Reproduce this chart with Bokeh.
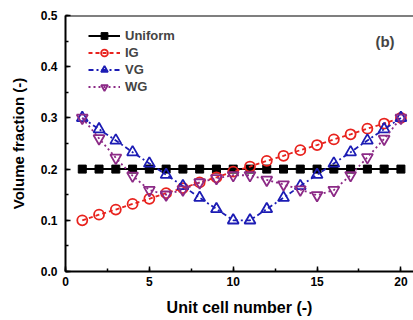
from bokeh.plotting import figure
from bokeh.embed import file_html
from bokeh.resources import INLINE
from bokeh.models import (SingleIntervalTicker, LinearAxis, PrintfTickFormatter,
                          Legend, LegendItem, Label, Range1d, Span)

cells = list(range(1, 21))
uniform = [0.20] * 20
ig = [0.100, 0.111, 0.121, 0.132, 0.142, 0.153, 0.163, 0.174, 0.184, 0.195,
      0.205, 0.216, 0.226, 0.237, 0.247, 0.258, 0.268, 0.279, 0.289, 0.300]
vg = [0.300, 0.278, 0.256, 0.233, 0.211, 0.189, 0.167, 0.144, 0.122, 0.100,
      0.100, 0.122, 0.144, 0.167, 0.189, 0.211, 0.233, 0.256, 0.278, 0.300]
wg = [0.300, 0.260, 0.222, 0.187, 0.159, 0.150, 0.160, 0.174, 0.182, 0.188,
      0.188, 0.179, 0.170, 0.160, 0.149, 0.159, 0.188, 0.223, 0.259, 0.300]

RED = "#e8231e"
BLUE = "#1c1cb4"
PURPLE = "#8c2a86"
FONT = "Liberation Sans"

p = figure(width=413, height=320, output_backend="svg", toolbar_location=None,
           x_range=Range1d(0, 20.75), y_range=Range1d(0, 0.5),
           x_axis_type=None, y_axis_type=None,
           min_border_left=65, min_border_top=15, min_border_right=0, min_border_bottom=49)
p.outline_line_color = None
p.xgrid.visible = False
p.ygrid.visible = False
p.background_fill_color = "white"
p.border_fill_color = "white"

def style_axis(ax):
    ax.axis_line_width = 2
    ax.axis_line_color = "black"
    ax.major_tick_in = 5
    ax.major_tick_out = 0
    ax.minor_tick_in = 3
    ax.minor_tick_out = 0
    ax.major_tick_line_width = 1.5
    ax.minor_tick_line_width = 1.5
    ax.major_label_text_font = FONT
    ax.major_label_text_font_style = "bold"
    ax.major_label_text_font_size = "12px"
    ax.major_label_text_color = "black"
    ax.axis_label_text_font = FONT
    ax.axis_label_text_font_style = "bold"
    ax.axis_label_text_color = "black"

xax = LinearAxis(ticker=SingleIntervalTicker(interval=5, num_minor_ticks=2),
                 formatter=PrintfTickFormatter(format="%d"),
                 axis_label="Unit cell number (-)")
style_axis(xax)
xax.axis_label_text_font_size = "16px"
xax.major_label_standoff = 5
xax.axis_label_standoff = 10
p.add_layout(xax, "below")

yax = LinearAxis(ticker=SingleIntervalTicker(interval=0.1, num_minor_ticks=2),
                 formatter=PrintfTickFormatter(format="%.1f"),
                 axis_label="Volume fraction (-)")
style_axis(yax)
yax.axis_label_text_font_size = "15px"
yax.major_label_standoff = 8
yax.axis_label_standoff = 11
p.add_layout(yax, "left")

p.add_layout(Span(location=0.5, dimension="width", line_color="black", line_width=2))

# Lines
l_u = p.line(cells, uniform, line_color="black", line_width=2)
m_u = p.scatter(cells, uniform, marker="square", size=8, fill_color="black", line_color="black")

l_ig = p.line(cells, ig, line_color=RED, line_width=1.8, line_dash="4 3")
m_ig = p.scatter(cells, ig, marker="circle", size=10, fill_color="white", fill_alpha=0,
                 line_color=RED, line_width=1.8)

l_vg = p.line(cells, vg, line_color=BLUE, line_width=1.8, line_dash="5 3 2 3")
m_vg = p.scatter(cells, vg, marker="triangle", size=11, fill_color="white", fill_alpha=0,
                 line_color=BLUE, line_width=1.8)

l_wg = p.line(cells, wg, line_color=PURPLE, line_width=1.8, line_dash="2 3")
m_wg = p.scatter(cells, wg, marker="inverted_triangle", size=11, fill_color="white",
                 fill_alpha=0, line_color=PURPLE, line_width=1.8)

legend = Legend(items=[
    LegendItem(label="Uniform", renderers=[l_u, m_u]),
    LegendItem(label="IG", renderers=[l_ig, m_ig]),
    LegendItem(label="VG", renderers=[l_vg, m_vg]),
    LegendItem(label="WG", renderers=[l_wg, m_wg]),
], location=(23, 176), padding=0, margin=0, spacing=0,
    glyph_width=32, glyph_height=17, label_height=17, label_standoff=5,
    label_text_font=FONT, label_text_font_style="bold", label_text_font_size="13px",
    border_line_color=None, background_fill_alpha=0)
p.add_layout(legend)

p.add_layout(Label(x=19.05, y=0.449, text="(b)", text_font=FONT, text_font_style="bold",
                   text_font_size="15px", text_align="center", text_baseline="middle"))

open("out.html", "w").write(file_html(p, INLINE))
